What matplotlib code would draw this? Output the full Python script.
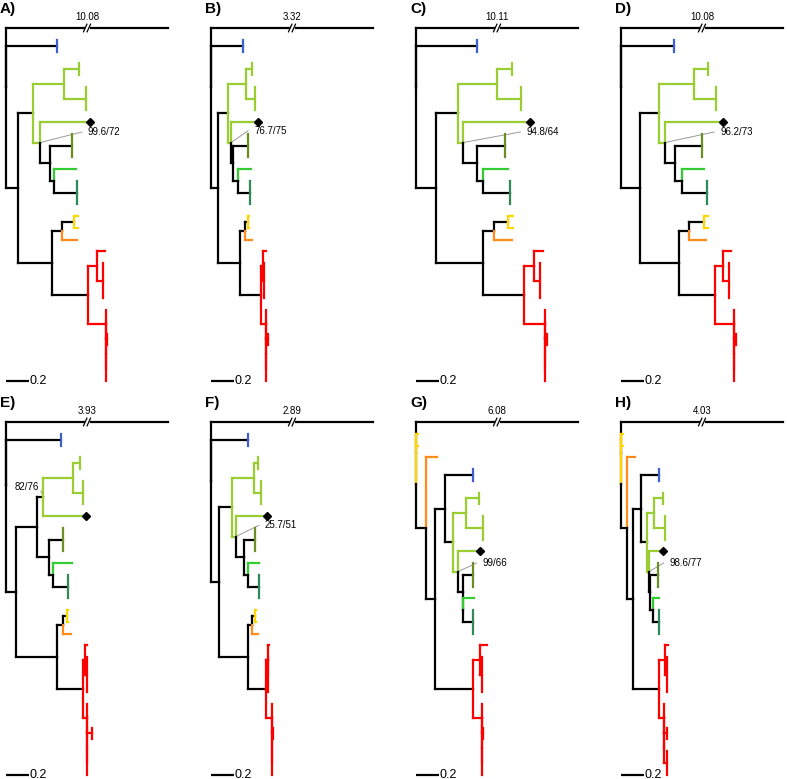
import matplotlib
matplotlib.use('Agg')
import numpy as np
import matplotlib.pyplot as plt
from matplotlib.collections import LineCollection

plt.rcParams['font.family'] = ['Liberation Sans', 'DejaVu Sans']

# trees in newick: leaf = colour letter [+ tip count] [* = marked tip],
# internal label = colour of branch and below, '@' = node with support label,
# 'x' = outgroup (drawn broken)
tree_a = ('(x:10.08,b2:0.456,(((g2:0.131,g3:0.193)g:0.276,'
          '(g*:0.444,(v3:0.198,(n:0.193,t3:0.204):0.038)k:0.089)g@:0.060):0.133,'
          '(((y:0.038,y:0.038):0.109,o:0.139):0.089,'
          '((r:0.068,r4:0.048)r:0.080,(r:0,(r:0,(r2:0.012,r3:0)))r:0.157):0.325):0.297):0.109);')
tree_b = ('(x:3.32,b2:0.287,(((g2:0.059,g3:0.083)g:0.155,'
          '(g*:0.237,(v3:0.128,(n:0.113,t3:0.104):0.044)k:0.020)g@:0.024):0.094,'
          '(((y:0.015,y:0.015):0.024,o:0.060):0.044,'
          '((r:0.021,r4:0.006)r:0.023,(r:0,(r:0,(r2:0.015,r3:0)))r:0.047):0.184):0.198):0.060);')
tree_c = ('(x:10.11,b2:0.545,(((g2:0.133,g3:0.213)g:0.341,'
          '(g*:0.593,(v3:0.246,(n:0.222,t3:0.237):0.053)k:0.124)g@:0.044):0.198,'
          '(((y:0.044,y:0.044):0.127,o:0.157):0.095,'
          '((r:0.077,r4:0.053)r:0.089,(r:0,(r:0,(r2:0.015,r3:0)))r:0.187):0.362):0.420):0.178);')
tree_d = ('(x:10.08,b2:0.471,(((g2:0.127,g3:0.196)g:0.308,'
          '(g*:0.513,(v3:0.237,(n:0.198,t3:0.222):0.060)k:0.089)g@:0.051):0.172,'
          '(((y:0.036,y:0.036):0.131,o:0.148):0.089,'
          '((r:0.066,r4:0.053)r:0.074,(r:0,(r:0,(r2:0.015,r3:0)))r:0.169):0.317):0.349):0.169);')
tree_e = ('(x:3.93,b2:0.486,((((g2:0.060,g3:0.084)g:0.267,g*:0.380)@:0.059,'
          '(v3:0.124,(n:0.164,t3:0.133):0.036)k:0.112):0.184,'
          '(((y:0.013,y:0.013):0.029,o:0.066):0.053,'
          '((r:0.020,r4:0.020)r:0.020,(r:0,(r:0,(r2:0.039,r3:0)))r:0.041):0.226):0.367):0.089);')
tree_f = ('(x:2.89,b2:0.332,(((g2:0.036,g3:0.060)g:0.196,'
          '(g*:0.276,(v3:0.095,(n:0.100,t3:0.100):0.030)k:0.076)g@:0.030):0.116,'
          '(((y:0.013,y:0.013):0.024,o:0.048):0.041,'
          '((r:0.012,r4:0.005)r:0.015,(r:0,(r:0,(r2:0.015,r3:0)))r:0.051):0.163):0.252):0.074);')
tree_g = ('(x:6.08,((y:0.020,y:0.020)y:0,(o:0.100,((b2:0.252,((g2:0.118,g3:0.148)g:0.118,'
          '(g*:0.198,(v3:0.089,(n:0.095,t3:0.084):0.005)k:0.044)g@:0.044):0.068):0.089,'
          '((r:0.065,r4:0.015)r:0.065,(r:0,(r:0,(r2:0.010,r3:0)))r:0.080):0.335):0.080):0.089):0);')
tree_h = ('(x:4.03,((y:0.020,y:0.020)y:0,(o:0.068,((b2:0.163,((g2:0.080,g3:0.095)g:0.068,'
          '(g*:0.124,(v3:0.074,(n:0.059,t3:0.059):0.024)k:0.012)g@:0.018):0.051):0.068,'
          '((r:0.029,r4:0.015)r:0.051,(r:0,(r:0,(r2:0.021,r3:0.021)))r:0.044):0.231):0.053):0.056):0);')

trees = [tree_a, tree_b, tree_c, tree_d, tree_e, tree_f, tree_g, tree_h]
panel_labels = ['A)', 'B)', 'C)', 'D)', 'E)', 'F)', 'G)', 'H)']
supports = ['99.6/72', '76.7/75', '94.8/64', '96.2/73', '82/76', '25.7/51', '99/66', '98.6/77']

COLORS = {'k': 'black', 'x': 'black', 'b': '#3d5fd0', 'g': '#9acd32', 'v': '#6b8e23',
          'n': '#33cc33', 't': '#2e8b57', 'y': '#ffd700', 'o': '#ff8c1a', 'r': '#ff0000'}

PX = 112.5      # pixels per branch length unit
TIP = 11.75     # pixels per tip
OUT_LEN = 162 / PX
LW = 1.6

# support label placement (px from node, tips from node)
ann_dx = [48, 23, 63, 55, -4, 29, 25, 21]
ann_dy = [-0.9, -1.0, -0.9, -0.9, -0.85, -0.95, -0.75, -0.75]
ann_ha = ['left', 'left', 'left', 'left', 'right', 'left', 'left', 'left']


def parse(s):
    pos = [0]

    def node():
        kids = []
        if s[pos[0]] == '(':
            pos[0] += 1
            kids.append(node())
            while s[pos[0]] == ',':
                pos[0] += 1
                kids.append(node())
            pos[0] += 1
        start = pos[0]
        while s[pos[0]] not in ',);':
            pos[0] += 1
        name, _, ln = s[start:pos[0]].partition(':')
        return {'kids': kids, 'name': name, 'len': float(ln) if ln else 0.0}
    return node()


def name_info(name):
    letter = name[0] if name and name[0] in COLORS else ''
    digits = ''.join(ch for ch in name if ch.isdigit())
    return letter, (int(digits) if digits else 1), '*' in name, '@' in name


def place(nd, x, counter):
    letter = name_info(nd['name'])[0]
    nd['x'] = x + (OUT_LEN if letter == 'x' else nd['len'])
    if nd['kids']:
        for k in nd['kids']:
            place(k, nd['x'], counter)
        nd['y'] = np.mean([k['y'] for k in nd['kids']])
    else:
        n = name_info(nd['name'])[1]
        nd['y0'] = counter[0]
        nd['y1'] = counter[0] + n - 1
        nd['y'] = (nd['y0'] + nd['y1']) / 2
        counter[0] += n


def walk(ax, nd, inh, segs, cols, diamonds, anns):
    for k in nd['kids']:
        letter, n, star, ann = name_info(k['name'])
        leaf = not k['kids']
        if leaf and n > 1:
            c = inh
        elif letter:
            c = COLORS[letter]
        else:
            c = inh
        segs.append([(nd['x'], nd['y']), (nd['x'], k['y'])])
        cols.append(c)
        if letter == 'x':
            mid = nd['x'] + OUT_LEN / 2
            gap = 3.5 / PX
            segs.append([(nd['x'], k['y']), (mid - gap, k['y'])])
            segs.append([(mid + gap, k['y']), (k['x'], k['y'])])
            cols += ['black', 'black']
            for s in (-1.8, 1.8):
                cx = mid + s / PX
                ax.plot([cx - 1.7 / PX, cx + 1.7 / PX],
                        [k['y'] + 3.8 / TIP, k['y'] - 3.8 / TIP], c='black', lw=0.9)
            ax.text(mid, k['y'] - 11 / TIP, '%.2f' % k['len'], fontsize=7,
                    ha='center', va='center')
            continue
        segs.append([(nd['x'], k['y']), (k['x'], k['y'])])
        cols.append(c)
        if leaf and n > 1:
            segs.append([(k['x'], k['y0']), (k['x'], k['y1'])])
            cols.append(COLORS[letter])
        if star:
            diamonds.append((k['x'], k['y']))
        if ann:
            anns.append((k['x'], k['y']))
        if not leaf:
            walk(ax, k, c, segs, cols, diamonds, anns)


fig = plt.figure(figsize=(7.87, 7.79), dpi=100)
W, H = 787.0, 779.0

for i, tree in enumerate(trees):
    row, col = divmod(i, 4)
    left, top = col * 205, row * 394
    ax = fig.add_axes([left / W, (H - top - 390) / H, 205 / W, 390 / H])
    ax.set_xlim(-6 / PX, 199 / PX)
    ax.set_ylim(-28 / TIP + 390 / TIP, -28 / TIP)
    ax.axis('off')

    root = parse(tree)
    place(root, 0.0, [0])
    segs, cols, diamonds, anns = [], [], [], []
    walk(ax, root, 'black', segs, cols, diamonds, anns)
    ax.add_collection(LineCollection(segs, colors=cols, linewidths=LW,
                                     capstyle='projecting', zorder=2))
    for x, y in diamonds:
        ax.plot(x, y, marker='D', ms=4, c='black', zorder=3)

    for x, y in anns:
        tx = x + ann_dx[i] / PX
        ty = y + ann_dy[i]
        if ann_ha[i] == 'left':
            ex, ey = tx - 6 / PX, ty
        else:
            ex, ey = tx + 1.5 / PX, ty + 0.35
        ax.plot([x, ex], [y, ey], c='#9a9a9a', lw=0.7, zorder=1)
        ax.text(tx, ty, supports[i], fontsize=7, ha=ann_ha[i], va='center')

    ax.text(-6 / PX, -28 / TIP + 9 / TIP, panel_labels[i], fontsize=11,
            fontweight='bold', ha='left', va='center')

    ax.plot([0, 0.2], [30, 30], c='black', lw=LW, solid_capstyle='butt')
    ax.text(0.2 + 1 / PX, 30, '0.2', fontsize=9, ha='left', va='center')

plt.savefig('out.png', dpi=100)
